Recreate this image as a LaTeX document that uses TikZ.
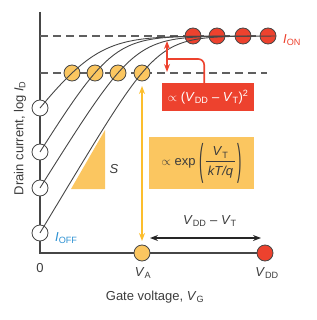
\documentclass[tikz,border=0pt]{standalone}
\usepackage{fontspec}
\usepackage{graphicx}
\setmainfont{Liberation Sans}
\usetikzlibrary{arrows.meta}
\setlength{\arrayrulewidth}{0.7pt}
\definecolor{axisgray}{RGB}{70,70,70}
\definecolor{dashgray}{RGB}{95,95,95}
\definecolor{ored}{RGB}{237,66,46}
\definecolor{oyellow}{RGB}{251,198,96}
\definecolor{ayellow}{RGB}{252,190,45}
\definecolor{oblue}{RGB}{45,145,210}
\definecolor{txtgray}{RGB}{60,60,60}
\newcommand{\mybigparen}[1]{\raisebox{-8.5pt}{\scalebox{1}[3.3]{#1}}}
\tikzset{
  axisline/.style={draw=axisgray, line width=1.2pt},
  dashline/.style={draw=dashgray, line width=1.1pt, dash pattern=on 8pt off 5pt},
  curveline/.style={draw=axisgray, line width=0.9pt},
  dot/.style={circle, minimum size=16pt, inner sep=0pt, draw=axisgray, line width=0.8pt},
  offdot/.style={dot, fill=white},
  ondot/.style={dot, fill=ored},
  thdot/.style={dot, fill=oyellow},
  lbl/.style={text=txtgray, font=\fontsize{13}{15}\selectfont, inner sep=1pt},
  dtip/.style={{Stealth[length=8pt,width=6pt]}-{Stealth[length=8pt,width=6pt]}},
}
\begin{document}
\begin{tikzpicture}[x=1pt,y=-1pt]
\useasboundingbox (0,0) rectangle (316,320);
% axes
\coordinate (top) at (40,12);
\coordinate (origin) at (40,253);
\coordinate (xend) at (265,253);
\draw[axisline] (top) -- (origin) -- (xend);
% dashed levels
\coordinate (ds1) at (40,36);
\coordinate (de1) at (268,36);
\coordinate (ds2) at (40,73);
\coordinate (de2) at (267,73);
\draw[dashline] (ds1) -- (de1);
\draw[dashline] (ds2) -- (de2);
% slope triangle
\fill[oyellow] (71,189) -- (105,189) -- (105,130) -- cycle;
\node[lbl, font=\fontsize{13}{15}\selectfont\itshape] (slbl) at (114,169) {S};
% boxes
\node[fill=ored, minimum width=92pt, minimum height=28pt, anchor=north west, inner sep=0pt,
      text=white, font=\fontsize{13}{15}\selectfont] (rbox) at (162,83)
  {$\propto$ (\textit{V}\textsubscript{DD} -- \textit{V}\textsubscript{T})\textsuperscript{2}};
\node[fill=oyellow, minimum width=105pt, minimum height=52pt, anchor=north west, inner sep=0pt,
      text=txtgray, font=\fontsize{13}{15}\selectfont] (ybox) at (149,137)
  {$\propto$\ exp\ \mybigparen{(}\,\begin{tabular}{@{\,}c@{\,}}\rule[-5pt]{0pt}{12pt}\textit{V}\textsubscript{T}\\\hline\rule{0pt}{14pt}\textit{kT/q}\end{tabular}\,\mybigparen{)}};
% circles
\node[offdot] (w1) at (40,108) {};
\node[offdot] (w2) at (40,152) {};
\node[offdot] (w3) at (40,188) {};
\node[offdot] (w4) at (40,233) {};
\node[thdot] (y1) at (72,73) {};
\node[thdot] (y2) at (95,73) {};
\node[thdot] (y3) at (118,73) {};
\node[thdot] (y4) at (142,73) {};
\node[ondot] (r1) at (193,36) {};
\node[ondot] (r2) at (217,36) {};
\node[ondot] (r3) at (243,36) {};
\node[ondot] (r4) at (268,36) {};
\node[thdot] (va) at (142,253) {};
\node[ondot] (vdd) at (265,253) {};
% transfer curves (log I_D vs V_G)
\draw[curveline] plot[domain=40:200, samples=90, smooth] (\x, {36 + 29.8*ln(1+exp((92.3-\x)/22.5))});
\draw[curveline] plot[domain=40:224, samples=90, smooth] (\x, {36 + 29.8*ln(1+exp((111.6-\x)/18.5))});
\draw[curveline] plot[domain=40:250, samples=90, smooth] (\x, {36 + 29.8*ln(1+exp((134.7-\x)/18.6))});
\draw[curveline] plot[domain=40:275, samples=90, smooth] (\x, {36 + 29.8*ln(1+exp((158-\x)/17.86))});
% red arrow and connector
\coordinate (ra1) at (167,41);
\coordinate (ra2) at (167,72);
\coordinate (rmid) at (167,59);
\draw[ored, line width=1.6pt, dtip] (ra1) -- (ra2);
\draw[ored, line width=1.6pt, rounded corners=6pt] (rmid) -| ([xshift=-4pt]rbox.north);
% yellow arrow
\coordinate (ya1) at (142,86);
\coordinate (ya2) at (142,241);
\draw[ayellow, line width=1.6pt, dtip] (ya1) -- (ya2);
% black arrow
\coordinate (ba1) at (150,238);
\coordinate (ba2) at (261,238);
\draw[black!85, line width=1.3pt, dtip] (ba1) -- (ba2);
\node[lbl] (dlbl) at (210,221) {\textit{V}\textsubscript{DD} -- \textit{V}\textsubscript{T}};
% labels
\node[lbl, text=ored, anchor=west] (ion) at (282,40) {\textit{I}\textsubscript{ON}};
\node[lbl, text=oblue, anchor=west] (ioff) at (54,238) {\textit{I}\textsubscript{OFF}};
\node[lbl] (zero) at (40,268) {0};
\node[lbl] (valbl) at (143,273) {\textit{V}\textsubscript{A}};
\node[lbl] (vddlbl) at (267,273) {\textit{V}\textsubscript{DD}};
\node[lbl] (xlbl) at (155,297) {Gate voltage, \textit{V}\textsubscript{G}};
\node[lbl, rotate=90] (ylbl) at (20,138) {Drain current, log \textit{I}\textsubscript{D}};
\end{tikzpicture}
\end{document}
